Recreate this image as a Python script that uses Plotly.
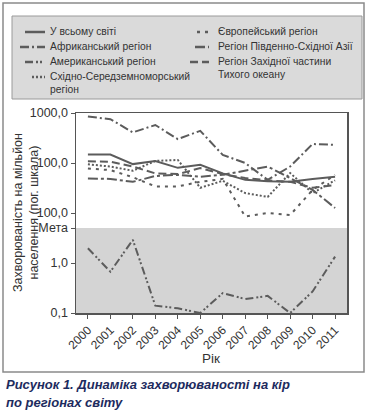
import plotly.graph_objects as go

years = list(range(2000, 2012))
world = [148, 148, 95, 110, 80, 92, 62, 46, 43, 42, 48, 53]
africa = [850, 750, 410, 575, 300, 440, 145, 100, 46, 85, 240, 230]
americas = [1.97, 0.67, 2.9, 0.14, 0.124, 0.10, 0.25, 0.19, 0.22, 0.10, 0.27, 1.34]
emr = [94, 85, 70, 110, 115, 32, 44, 25, 21, 63, 25, 45]
europe = [78, 72, 52, 34, 34, 42, 48, 8.5, 10, 9.1, 29, 58]
sear = [49, 48, 42, 55, 58, 53, 58, 69, 85, 50, 29, 12.6]
wpr = [108, 106, 85, 62, 60, 79, 60, 50, 45, 42, 32, 36]
target = 5

names = ["У всьому світі", "Африканський регіон", "Американський регіон",
         "Східно-Середземноморський<br>регіон", "Європейський регіон",
         "Регіон Південно-Східної Азії", "Регіон Західної частини<br>Тихого океану"]
series = [world, africa, americas, emr, europe, sear, wpr]

ytick_vals = [0.1, 1, 5, 10, 100, 1000]
ytick_text = ["0,1", "1,0", "Мета", "100,0", "100,0", "1000,0"]

LINE = "#5c5c5c"
dashes = ["solid", "9px,3px,2px,3px", "8px,3px,2px,2px,2px,3px", "2px,2px",
          "3px,5px", "10px,3px,3px,3px", "8px,4px"]

W, H = 367, 413
L, T, PW, PH = 76, 113, 271, 200


def fx(px):
    return (px - L) / PW


def fy(py):
    return (T + PH - py) / PH


fig = go.Figure()
for name, vals, d in zip(names, series, dashes):
    fig.add_trace(go.Scatter(x=years, y=vals, mode="lines", name=name,
                             line=dict(color=LINE, width=2, dash=d),
                             showlegend=False, hoverinfo="skip"))

shapes = []
shapes.append(dict(type="rect", xref="paper", yref="paper", x0=fx(3), x1=fx(364),
                   y0=fy(3), y1=fy(372), line=dict(color="#8a8a8a", width=1.5),
                   fillcolor="rgba(0,0,0,0)", layer="below"))
shapes.append(dict(type="rect", xref="paper", yref="paper", x0=fx(12), x1=fx(362),
                   y0=fy(16), y1=fy(99), line=dict(color="#9a9a9a", width=1),
                   fillcolor="#dadada", layer="below"))
shapes.append(dict(type="rect", xref="x domain", yref="y", x0=0, x1=1,
                   y0=ytick_vals[0], y1=target,
                   line=dict(width=0), fillcolor="#d4d4d4", layer="below"))

annotations = []
leg = [
    (25, 45, 32, 49, 0, "У всьому світі"),
    (20, 45, 47, 49, 1, "Африканський регіон"),
    (25, 45, 62, 49, 2, "Американський регіон"),
    (32, 45, 77, 49, 3, "Східно-Середземноморський<br>регіон"),
    (197, 209, 32, 217, 4, "Європейський регіон"),
    (195, 209, 47, 217, 5, "Регіон Південно-Східної Азії"),
    (190, 209, 62, 217, 6, "Регіон Західної частини<br>Тихого океану"),
]
for x0, x1, yy, tx, di, txt in leg:
    shapes.append(dict(type="line", xref="paper", yref="paper", x0=fx(x0), x1=fx(x1),
                       y0=fy(yy), y1=fy(yy), line=dict(color=LINE, width=2.5, dash=dashes[di])))
    annotations.append(dict(xref="paper", yref="paper", x=fx(tx), y=fy(yy - 7),
                            xanchor="left", yanchor="top", align="left", showarrow=False,
                            text=txt, font=dict(size=10.3, color="#333333"),
                            borderpad=0))

annotations.append(dict(xref="paper", yref="paper", x=fx(26), y=0.5, textangle=-90,
                        xanchor="center", yanchor="middle", showarrow=False,
                        text="Захворюваність на мільйон<br>населення (пог. шкала)",
                        font=dict(size=12.5, color="#333333")))
annotations.append(dict(xref="paper", yref="paper", x=fx(211), y=fy(358),
                        xanchor="center", yanchor="middle", showarrow=False,
                        text="Рік", font=dict(size=13.5, color="#333333")))
annotations.append(dict(xref="paper", yref="paper", x=fx(4), y=fy(384),
                        xanchor="left", yanchor="middle", showarrow=False,
                        text="<b><i>Рисунок 1. Динаміка захворюваності на кір</i></b>",
                        font=dict(size=13, color="#1d2b5e")))
annotations.append(dict(xref="paper", yref="paper", x=fx(4), y=fy(402),
                        xanchor="left", yanchor="middle", showarrow=False,
                        text="<b><i>по регіонах світу</i></b>",
                        font=dict(size=13, color="#1d2b5e")))

fig.update_layout(
    width=W, height=H,
    margin=dict(l=L, r=W - L - PW, t=T, b=H - T - PH),
    paper_bgcolor="white", plot_bgcolor="white",
    font=dict(family="Liberation Sans, Arial, sans-serif", color="#333333"),
    shapes=shapes, annotations=annotations, hovermode=False,
    xaxis=dict(range=[1999.47, 2011.53], tickvals=years, ticktext=[str(y) for y in years],
               tickangle=-45, ticks="outside", ticklen=4, tickcolor="#555",
               showline=True, mirror=True, linecolor="#555", linewidth=1.5,
               showgrid=False, zeroline=False, tickfont=dict(size=12, color="#333")),
    yaxis=dict(type="log", range=[-1, 3], tickvals=ytick_vals, ticktext=ytick_text,
               ticks="outside", ticklen=4, tickcolor="#555",
               showline=True, mirror=True, linecolor="#555", linewidth=1.5,
               showgrid=False, zeroline=False, tickfont=dict(size=12.5, color="#333")),
)

fig.write_html("out.html", config={"displayModeBar": False, "staticPlot": True},
               post_script="document.body.style.margin='0';document.body.style.overflow='hidden';")
